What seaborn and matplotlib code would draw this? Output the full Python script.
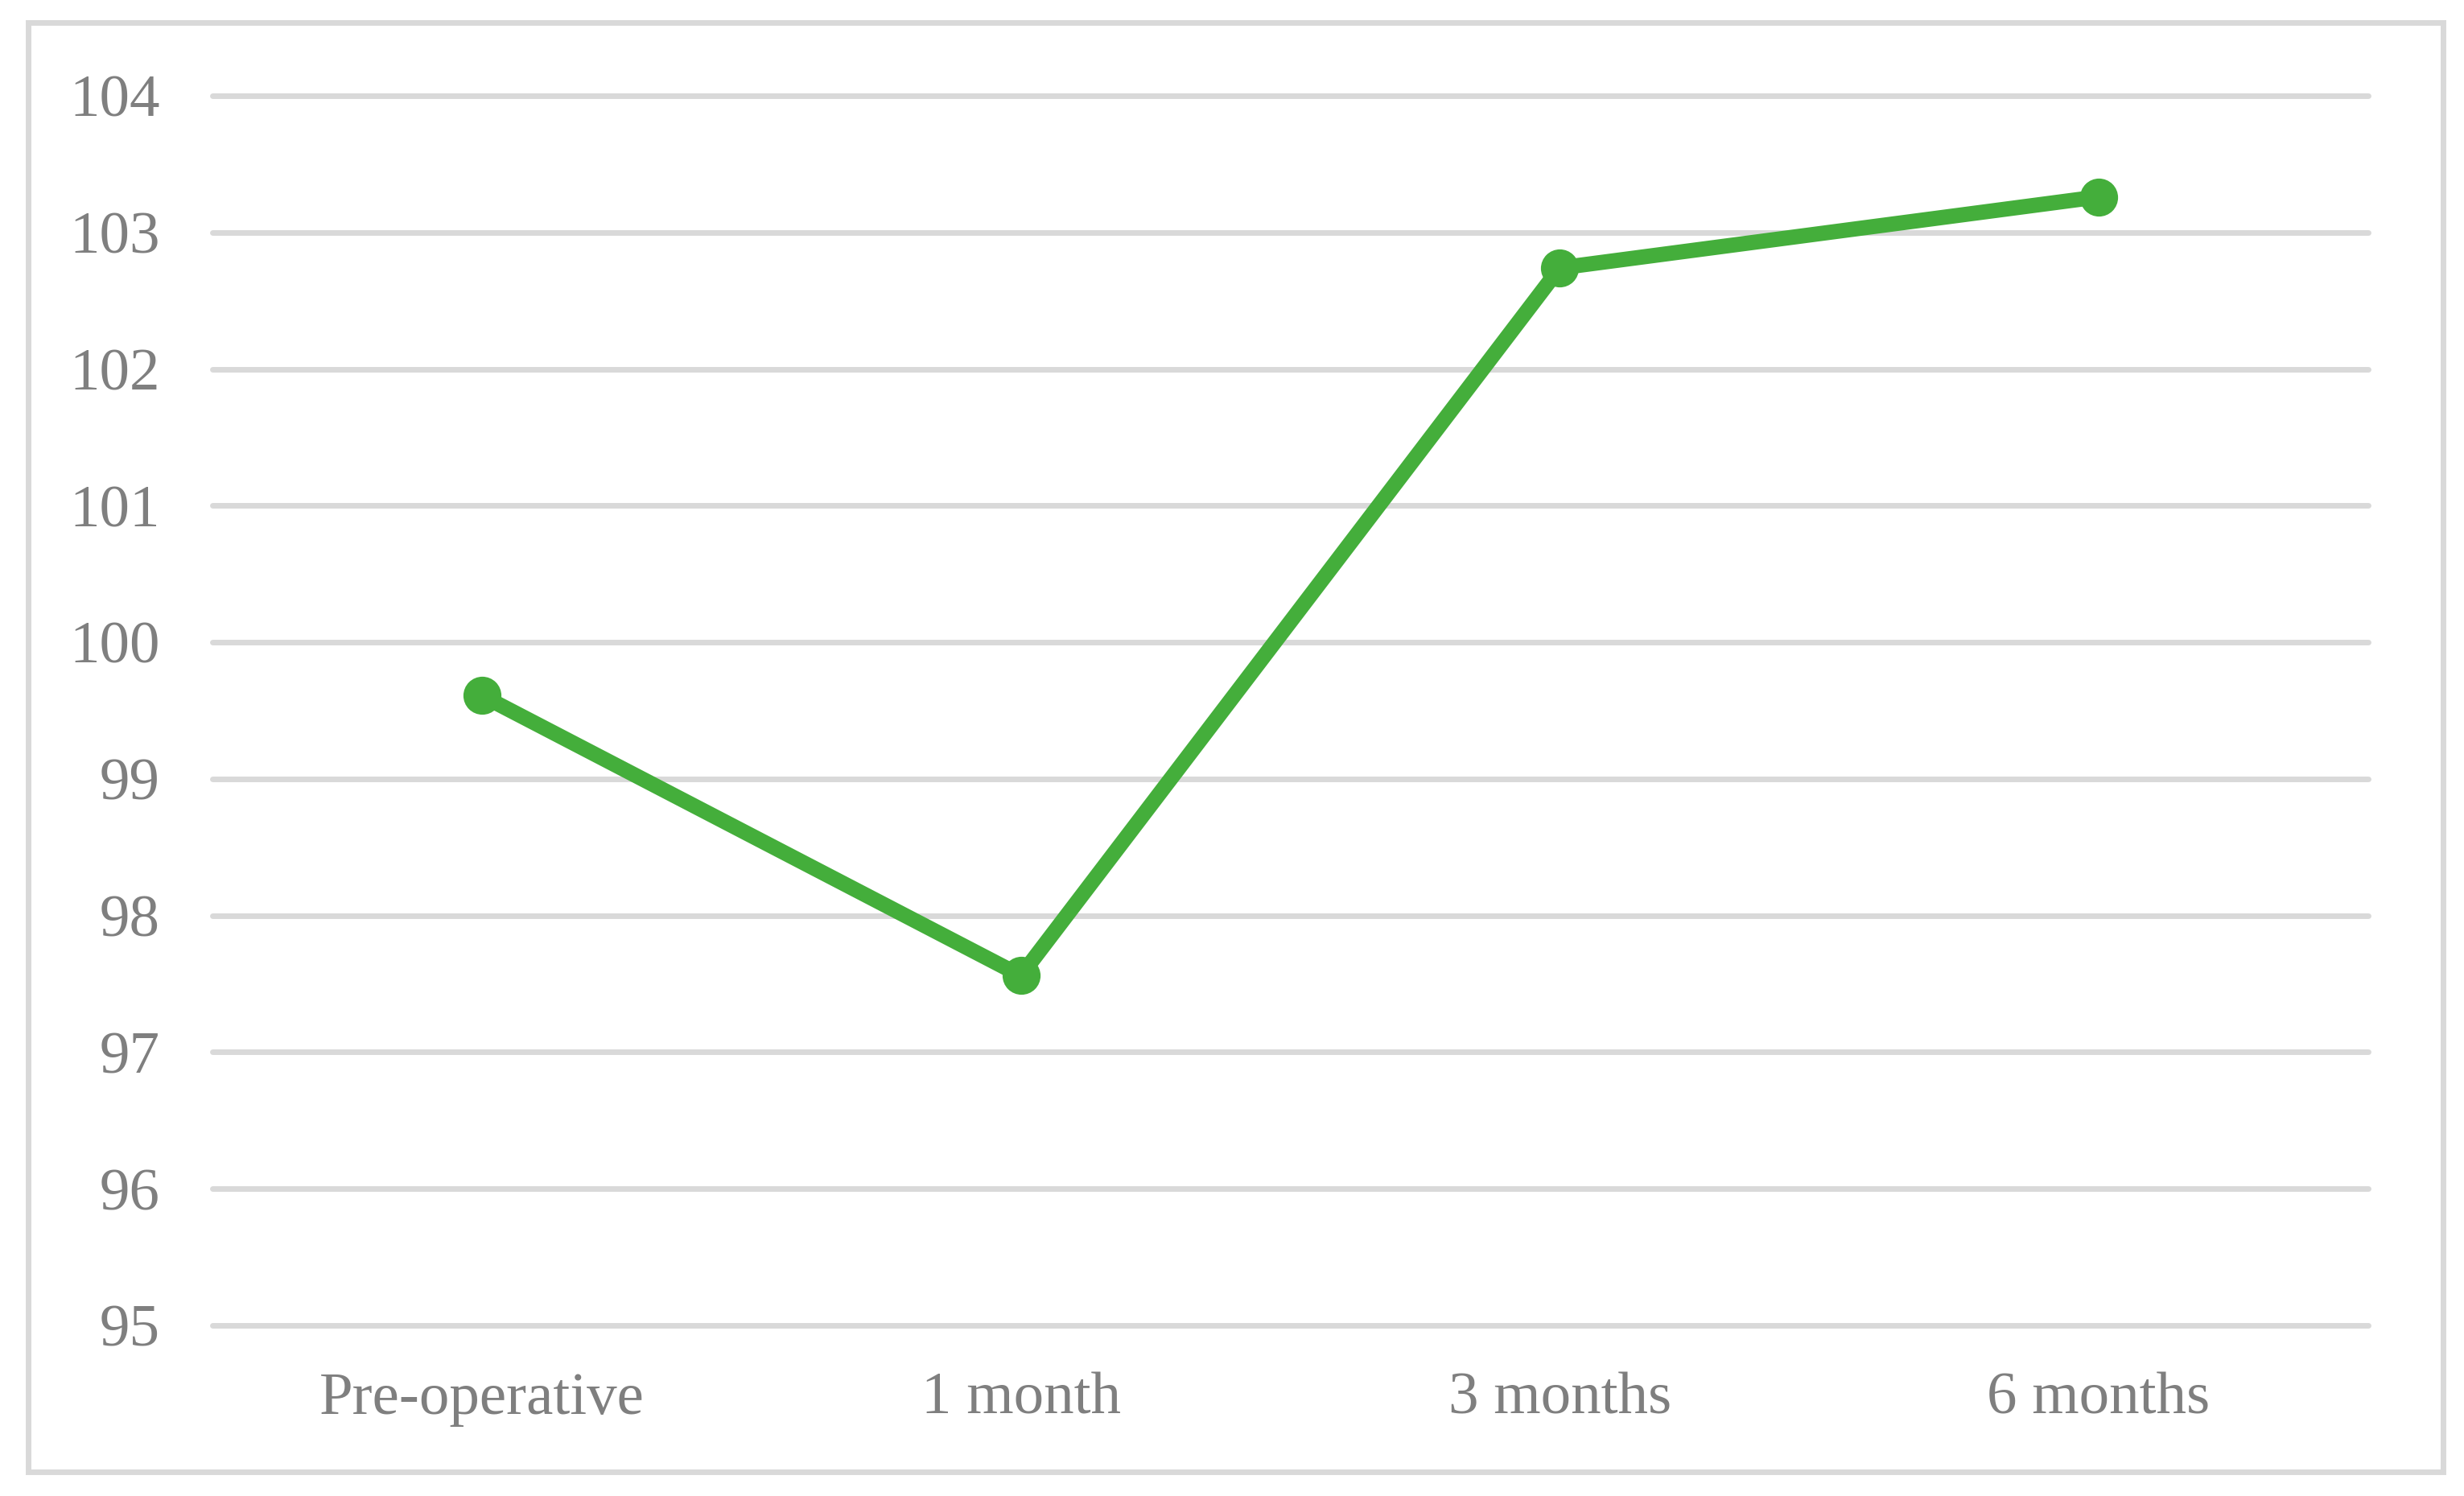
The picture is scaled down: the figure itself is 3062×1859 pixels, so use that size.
import matplotlib
matplotlib.use('Agg')
import matplotlib.pyplot as plt
import matplotlib.patches as patches
import seaborn as sns
import pandas as pd

timepoints = ["Pre-operative", "1 month", "3 months", "6 months"]
values = [99.61, 97.56, 102.74, 103.26]
y_ticks = [95, 96, 97, 98, 99, 100, 101, 102, 103, 104]

GREEN = "#44AE3B"
GRID = "#D9D9D9"
TEXT = "#7F7F7F"

sns.set_style("white")
plt.rcParams['font.family'] = ['Liberation Serif', 'DejaVu Serif']

df = pd.DataFrame({"time": timepoints, "value": values})

fig = plt.figure(figsize=(15.31, 9.295), dpi=200)
ax = fig.add_axes([0.0862, 0.1140, 0.9611 - 0.0862, 0.9360 - 0.1140])

sns.lineplot(data=df, x="time", y="value", ax=ax, color=GREEN,
             linewidth=6.8, marker="o", markersize=17, markeredgewidth=0,
             sort=False)

ax.set_xlim(-0.5, 3.5)
ax.set_ylim(95, 104)
ax.set_yticks(y_ticks)
ax.set_yticklabels([str(t) for t in y_ticks])
ax.set_xlabel("")
ax.set_ylabel("")

ax.grid(axis="y", color=GRID, linewidth=2.5)
ax.grid(axis="x", visible=False)
ax.set_axisbelow(True)
for gl in ax.get_ygridlines():
    gl.set_clip_on(False)

for s in ax.spines.values():
    s.set_visible(False)

ax.tick_params(axis="y", length=0, pad=23.5, labelsize=27, labelcolor=TEXT)
ax.tick_params(axis="x", length=0, pad=21, labelsize=27, labelcolor=TEXT)

# outer chart border
border = patches.Rectangle((0.01143, 0.01614), 0.99151 - 0.01143, 0.98494 - 0.01614,
                           transform=fig.transFigure, fill=False,
                           edgecolor=GRID, linewidth=2.5)
fig.patches.append(border)

fig.savefig("out.png", dpi=200, facecolor="white")
plt.close(fig)
